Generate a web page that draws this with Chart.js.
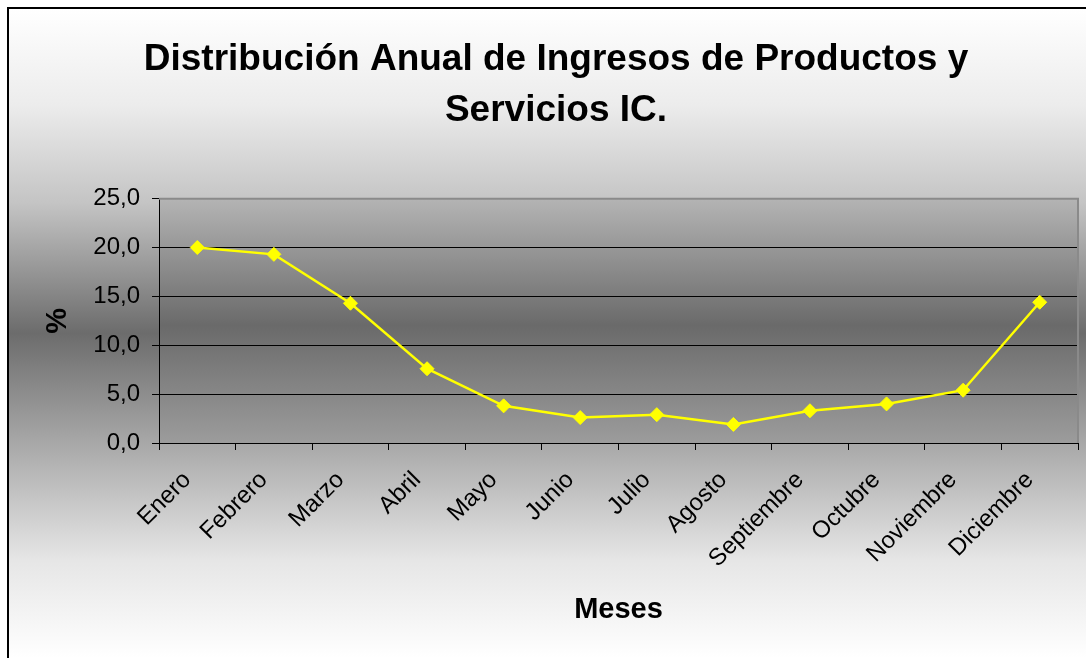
<!DOCTYPE html>
<html>
<head>
<meta charset="utf-8">
<script src="https://cdn.jsdelivr.net/npm/chart.js@4"></script>
<style>
  html, body { margin: 0; padding: 0; background: #fff; overflow: hidden; }
  canvas { display: block; }
</style>
</head>
<body>
<canvas id="ingresosChart" width="1086" height="658"></canvas>
<script>
const meses = ['Enero', 'Febrero', 'Marzo', 'Abril', 'Mayo', 'Junio', 'Julio', 'Agosto', 'Septiembre', 'Octubre', 'Noviembre', 'Diciembre'];
const porcentajes = [20.0, 19.3, 14.3, 7.6, 3.8, 2.6, 2.9, 1.9, 3.3, 4.0, 5.4, 14.4];
const yMin = 0;
const yMax = 25;
const yPaso = 5;
const titulo = ['Distribución Anual de Ingresos de Productos y', 'Servicios IC.'];

const fuente = "'Liberation Sans', Arial, sans-serif";

// fondo degradado del grafico y del area de trazado
const fondoPlugin = {
    id: 'fondo',
    beforeDraw(chart) {
        const ctx = chart.ctx;
        const w = chart.width, h = chart.height;
        ctx.save();
        ctx.fillStyle = '#ffffff';
        ctx.fillRect(0, 0, w, h);

        const g = ctx.createLinearGradient(0, 8, 0, h);
        g.addColorStop(0, '#ffffff');
        g.addColorStop(0.15, '#ececec');
        g.addColorStop(0.3, '#c4c4c4');
        g.addColorStop(0.5, '#6c6c6c');
        g.addColorStop(0.67, '#a8a8a8');
        g.addColorStop(0.85, '#e6e6e6');
        g.addColorStop(1, '#ffffff');
        ctx.fillStyle = g;
        ctx.fillRect(8, 8, w - 8, h - 8);

        // marco exterior (solo izquierda y arriba visibles)
        ctx.strokeStyle = '#000';
        ctx.lineWidth = 2;
        ctx.beginPath();
        ctx.moveTo(8, h);
        ctx.lineTo(8, 8);
        ctx.lineTo(w, 8);
        ctx.stroke();

        const a = chart.chartArea;
        const g2 = ctx.createLinearGradient(0, a.top, 0, a.bottom);
        g2.addColorStop(0, '#b4b4b4');
        g2.addColorStop(0.52, '#6a6a6a');
        g2.addColorStop(1, '#9c9c9c');
        ctx.fillStyle = g2;
        ctx.fillRect(a.left, a.top, a.right - a.left, a.bottom - a.top);
        ctx.restore();
    },
    beforeDatasetsDraw(chart) {
        const ctx = chart.ctx;
        const a = chart.chartArea;
        ctx.save();
        ctx.strokeStyle = '#8a8a8a';
        ctx.lineWidth = 2;
        ctx.beginPath();
        ctx.moveTo(a.left, a.top);
        ctx.lineTo(a.right, a.top);
        ctx.lineTo(a.right, a.bottom);
        ctx.stroke();
        ctx.restore();
    }
};

const ctx = document.getElementById('ingresosChart').getContext('2d');
const chart = new Chart(ctx, {
    type: 'line',
    data: {
        labels: meses,
        datasets: [{
            label: '%',
            data: porcentajes,
            borderColor: '#ffff00',
            backgroundColor: '#ffff00',
            borderWidth: 2.5,
            tension: 0,
            fill: false,
            pointStyle: 'rectRot',
            pointRadius: 7,
            pointBorderWidth: 1,
            pointBackgroundColor: '#ffff00',
            pointBorderColor: '#ffff00'
        }]
    },
    options: {
        responsive: false,
        animation: false,
        layout: {
            padding: { top: 0, left: 33, right: 7, bottom: 0 }
        },
        plugins: {
            legend: { display: false },
            tooltip: { enabled: false },
            title: {
                display: true,
                text: titulo,
                color: '#000',
                font: { family: fuente, size: 37, weight: 'bold', lineHeight: 1.36 },
                padding: { top: 35, bottom: 63 }
            }
        },
        scales: {
            x: {
                offset: true,
                afterFit(scale) { scale.height = 215; },
                grid: {
                    display: true,
                    offset: true,
                    drawOnChartArea: false,
                    drawTicks: true,
                    tickLength: 7,
                    color: '#000'
                },
                border: { display: true, color: '#000', width: 1 },
                ticks: {
                    color: '#000',
                    font: { family: fuente, size: 24 },
                    minRotation: 45,
                    maxRotation: 45,
                    autoSkip: false,
                    padding: 16,
                    labelOffset: -10
                },
                title: {
                    display: true,
                    text: 'Meses',
                    color: '#000',
                    font: { family: fuente, size: 29, weight: 'bold', lineHeight: 1.2 },
                    padding: { top: 0, bottom: 31 }
                }
            },
            y: {
                min: yMin,
                max: yMax,
                afterFit(scale) { scale.width = 126; },
                grid: {
                    color: c => (c.tick && c.tick.value === yMax) ? '#8a8a8a' : '#000',
                    tickColor: '#000',
                    tickLength: 7,
                    lineWidth: 1
                },
                border: { display: true, color: '#000', width: 1 },
                ticks: {
                    stepSize: yPaso,
                    color: '#000',
                    padding: 12,
                    font: { family: fuente, size: 24 },
                    callback: v => v.toFixed(1).replace('.', ',')
                },
                title: {
                    display: true,
                    text: '%',
                    color: '#000',
                    font: { family: fuente, size: 29, weight: 'bold', lineHeight: 1.2 },
                    padding: { top: 8, bottom: 0 }
                }
            }
        }
    },
    plugins: [fondoPlugin]
});
</script>
</body>
</html>
